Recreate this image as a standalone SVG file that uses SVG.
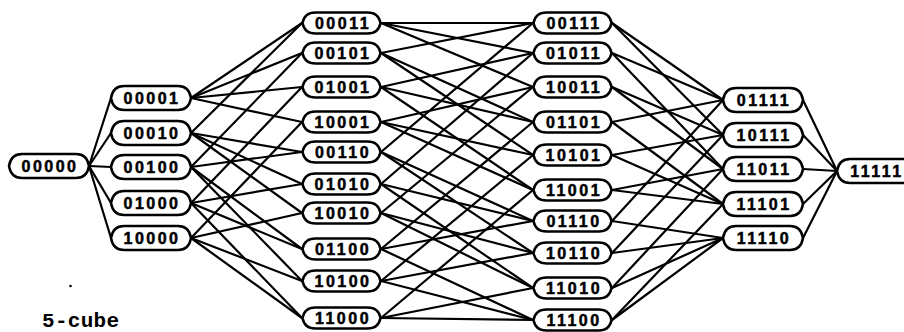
<svg xmlns="http://www.w3.org/2000/svg" xmlns:xlink="http://www.w3.org/1999/xlink" width="904" height="332" viewBox="0 0 904 332">
<style>
.edge line{stroke:#000;stroke-width:2.2;stroke-linecap:round}
.shape{fill:#fff;stroke:#000;stroke-width:2.5;stroke-linejoin:round}
.lbl{font-family:"Liberation Sans",Arial,sans-serif;font-weight:bold;font-size:16px;letter-spacing:2.5px;text-anchor:middle;fill:#000;stroke:#000;stroke-width:0.5}
.cap{font-family:"Liberation Mono","Courier New",monospace;font-weight:bold;font-size:21px;letter-spacing:0.3px;fill:#000}
</style>
<defs>
<path id="big" d="M-40,0 Q-38,-12 -27,-12 H27 Q38,-12 40,0 Q38,12 27,12 H-27 Q-38,12 -40,0 Z"/>
<path id="small" d="M-39,0 Q-37,-10.5 -26,-10.5 H26 Q37,-10.5 39,0 Q37,10.5 26,10.5 H-26 Q-37,10.5 -39,0 Z"/>
</defs>
<rect width="904" height="332" fill="#fff"/>
<g id="connectors" class="edge">
<line x1="89" y1="166" x2="111" y2="98"/>
<line x1="89" y1="166" x2="111" y2="133"/>
<line x1="89" y1="166" x2="111" y2="167"/>
<line x1="89" y1="166" x2="111" y2="203"/>
<line x1="89" y1="166" x2="111" y2="238"/>
<line x1="191" y1="98" x2="302" y2="23"/>
<line x1="191" y1="98" x2="302" y2="53"/>
<line x1="191" y1="98" x2="302" y2="87"/>
<line x1="191" y1="98" x2="302" y2="122"/>
<line x1="191" y1="133" x2="302" y2="23"/>
<line x1="191" y1="133" x2="302" y2="152"/>
<line x1="191" y1="133" x2="302" y2="184"/>
<line x1="191" y1="133" x2="302" y2="213"/>
<line x1="191" y1="167" x2="302" y2="53"/>
<line x1="191" y1="167" x2="302" y2="152"/>
<line x1="191" y1="167" x2="302" y2="249"/>
<line x1="191" y1="167" x2="302" y2="281"/>
<line x1="191" y1="203" x2="302" y2="87"/>
<line x1="191" y1="203" x2="302" y2="184"/>
<line x1="191" y1="203" x2="302" y2="249"/>
<line x1="191" y1="203" x2="302" y2="318"/>
<line x1="191" y1="238" x2="302" y2="122"/>
<line x1="191" y1="238" x2="302" y2="213"/>
<line x1="191" y1="238" x2="302" y2="281"/>
<line x1="191" y1="238" x2="302" y2="318"/>
<line x1="381" y1="23" x2="533" y2="23"/>
<line x1="381" y1="23" x2="533" y2="53"/>
<line x1="381" y1="23" x2="533" y2="87"/>
<line x1="381" y1="53" x2="533" y2="23"/>
<line x1="381" y1="53" x2="533" y2="122"/>
<line x1="381" y1="53" x2="533" y2="155"/>
<line x1="381" y1="87" x2="533" y2="53"/>
<line x1="381" y1="87" x2="533" y2="122"/>
<line x1="381" y1="87" x2="533" y2="190"/>
<line x1="381" y1="122" x2="533" y2="87"/>
<line x1="381" y1="122" x2="533" y2="155"/>
<line x1="381" y1="122" x2="533" y2="190"/>
<line x1="381" y1="152" x2="533" y2="23"/>
<line x1="381" y1="152" x2="533" y2="221"/>
<line x1="381" y1="152" x2="533" y2="253"/>
<line x1="381" y1="184" x2="533" y2="53"/>
<line x1="381" y1="184" x2="533" y2="221"/>
<line x1="381" y1="184" x2="533" y2="288"/>
<line x1="381" y1="213" x2="533" y2="87"/>
<line x1="381" y1="213" x2="533" y2="253"/>
<line x1="381" y1="213" x2="533" y2="288"/>
<line x1="381" y1="249" x2="533" y2="122"/>
<line x1="381" y1="249" x2="533" y2="221"/>
<line x1="381" y1="249" x2="533" y2="320"/>
<line x1="381" y1="281" x2="533" y2="155"/>
<line x1="381" y1="281" x2="533" y2="253"/>
<line x1="381" y1="281" x2="533" y2="320"/>
<line x1="381" y1="318" x2="533" y2="190"/>
<line x1="381" y1="318" x2="533" y2="288"/>
<line x1="381" y1="318" x2="533" y2="320"/>
<line x1="612" y1="23" x2="723" y2="100"/>
<line x1="612" y1="23" x2="723" y2="135"/>
<line x1="612" y1="53" x2="723" y2="100"/>
<line x1="612" y1="53" x2="723" y2="169"/>
<line x1="612" y1="87" x2="723" y2="135"/>
<line x1="612" y1="87" x2="723" y2="169"/>
<line x1="612" y1="122" x2="723" y2="100"/>
<line x1="612" y1="122" x2="723" y2="204"/>
<line x1="612" y1="155" x2="723" y2="135"/>
<line x1="612" y1="155" x2="723" y2="204"/>
<line x1="612" y1="190" x2="723" y2="169"/>
<line x1="612" y1="190" x2="723" y2="204"/>
<line x1="612" y1="221" x2="723" y2="100"/>
<line x1="612" y1="221" x2="723" y2="238"/>
<line x1="612" y1="253" x2="723" y2="135"/>
<line x1="612" y1="253" x2="723" y2="238"/>
<line x1="612" y1="288" x2="723" y2="169"/>
<line x1="612" y1="288" x2="723" y2="238"/>
<line x1="612" y1="320" x2="723" y2="204"/>
<line x1="612" y1="320" x2="723" y2="238"/>
<line x1="803" y1="100" x2="837" y2="171"/>
<line x1="803" y1="135" x2="837" y2="171"/>
<line x1="803" y1="169" x2="837" y2="171"/>
<line x1="803" y1="204" x2="837" y2="171"/>
<line x1="803" y1="238" x2="837" y2="171"/>
</g>
<g id="n00000"><use xlink:href="#big" class="shape" x="49" y="166"/><text class="lbl" x="50" y="172">00000</text></g>
<g id="n00001"><use xlink:href="#big" class="shape" x="151" y="98"/><text class="lbl" x="152" y="104">00001</text></g>
<g id="n00010"><use xlink:href="#big" class="shape" x="151" y="133"/><text class="lbl" x="152" y="139">00010</text></g>
<g id="n00100"><use xlink:href="#big" class="shape" x="151" y="167"/><text class="lbl" x="152" y="173">00100</text></g>
<g id="n01000"><use xlink:href="#big" class="shape" x="151" y="203"/><text class="lbl" x="152" y="209">01000</text></g>
<g id="n10000"><use xlink:href="#big" class="shape" x="151" y="238"/><text class="lbl" x="152" y="244">10000</text></g>
<g id="n00011"><use xlink:href="#small" class="shape" x="341.5" y="23"/><text class="lbl" x="343" y="29">00011</text></g>
<g id="n00101"><use xlink:href="#small" class="shape" x="341.5" y="53"/><text class="lbl" x="343" y="59">00101</text></g>
<g id="n01001"><use xlink:href="#small" class="shape" x="341.5" y="87"/><text class="lbl" x="343" y="93">01001</text></g>
<g id="n10001"><use xlink:href="#small" class="shape" x="341.5" y="122"/><text class="lbl" x="343" y="128">10001</text></g>
<g id="n00110"><use xlink:href="#small" class="shape" x="341.5" y="152"/><text class="lbl" x="343" y="158">00110</text></g>
<g id="n01010"><use xlink:href="#small" class="shape" x="341.5" y="184"/><text class="lbl" x="343" y="190">01010</text></g>
<g id="n10010"><use xlink:href="#small" class="shape" x="341.5" y="213"/><text class="lbl" x="343" y="219">10010</text></g>
<g id="n01100"><use xlink:href="#small" class="shape" x="341.5" y="249"/><text class="lbl" x="343" y="255">01100</text></g>
<g id="n10100"><use xlink:href="#small" class="shape" x="341.5" y="281"/><text class="lbl" x="343" y="287">10100</text></g>
<g id="n11000"><use xlink:href="#small" class="shape" x="341.5" y="318"/><text class="lbl" x="343" y="324">11000</text></g>
<g id="n00111"><use xlink:href="#small" class="shape" x="572.5" y="23"/><text class="lbl" x="574" y="29">00111</text></g>
<g id="n01011"><use xlink:href="#small" class="shape" x="572.5" y="53"/><text class="lbl" x="574" y="59">01011</text></g>
<g id="n10011"><use xlink:href="#small" class="shape" x="572.5" y="87"/><text class="lbl" x="574" y="93">10011</text></g>
<g id="n01101"><use xlink:href="#small" class="shape" x="572.5" y="122"/><text class="lbl" x="574" y="128">01101</text></g>
<g id="n10101"><use xlink:href="#small" class="shape" x="572.5" y="155"/><text class="lbl" x="574" y="161">10101</text></g>
<g id="n11001"><use xlink:href="#small" class="shape" x="572.5" y="190"/><text class="lbl" x="574" y="196">11001</text></g>
<g id="n01110"><use xlink:href="#small" class="shape" x="572.5" y="221"/><text class="lbl" x="574" y="227">01110</text></g>
<g id="n10110"><use xlink:href="#small" class="shape" x="572.5" y="253"/><text class="lbl" x="574" y="259">10110</text></g>
<g id="n11010"><use xlink:href="#small" class="shape" x="572.5" y="288"/><text class="lbl" x="574" y="294">11010</text></g>
<g id="n11100"><use xlink:href="#small" class="shape" x="572.5" y="320"/><text class="lbl" x="574" y="326">11100</text></g>
<g id="n01111"><use xlink:href="#big" class="shape" x="763" y="100"/><text class="lbl" x="764" y="106">01111</text></g>
<g id="n10111"><use xlink:href="#big" class="shape" x="763" y="135"/><text class="lbl" x="764" y="141">10111</text></g>
<g id="n11011"><use xlink:href="#big" class="shape" x="763" y="169"/><text class="lbl" x="764" y="175">11011</text></g>
<g id="n11101"><use xlink:href="#big" class="shape" x="763" y="204"/><text class="lbl" x="764" y="210">11101</text></g>
<g id="n11110"><use xlink:href="#big" class="shape" x="763" y="238"/><text class="lbl" x="764" y="244">11110</text></g>
<g id="n11111"><use xlink:href="#big" class="shape" x="877" y="171"/><text class="lbl" x="877" y="177">11111</text></g>
<circle cx="70.5" cy="286" r="1.3" fill="#000"/>
<text class="cap" x="42" y="327">5-cube</text>
</svg>
